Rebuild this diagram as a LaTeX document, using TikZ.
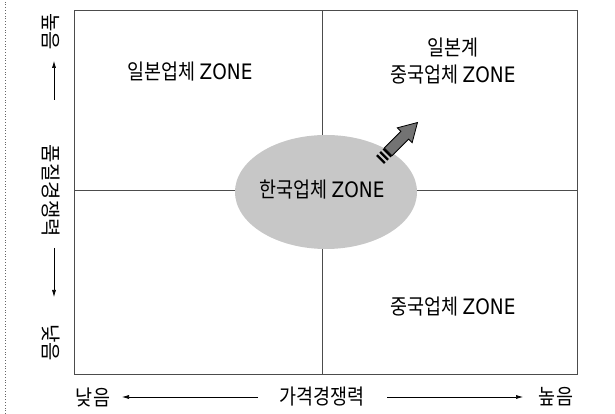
\documentclass[tikz,border=0pt]{standalone}
\usepackage{fontspec}
\setmainfont{Noto Sans CJK KR}
\newfontfamily\latinfont{DejaVu Sans}
\newcommand\zonetxt{{\latinfont ZONE}}
\usetikzlibrary{arrows.meta,shapes.geometric}
\begin{document}
\begin{tikzpicture}[x=1pt,y=1pt,
  lbl/.style={inner sep=0pt,font=\fontsize{18.5}{24}\selectfont,align=center,yscale=1.15},
  vlbl/.style={inner sep=0pt,font=\fontsize{20}{24}\selectfont,rotate=-90},
  frame/.style={draw=black!70,line width=0.9pt},
  axisarrow/.style={draw=black,line width=0.6pt,-{Latex[length=7pt,width=4pt]}}]
\useasboundingbox (0,0) rectangle (615,414);
\draw[black!60,dotted,line width=0.8pt] (5,0) -- (5,414);
% frame and quadrant lines
\draw[frame] (74,40) rectangle (577,404);
\draw[black!70,line width=0.7pt] (322,40) -- (322,404);
\draw[black!70,line width=0.7pt] (74,224) -- (577,224);
% ellipse
\node[ellipse, fill=black!22, minimum width=182pt, minimum height=114pt, inner sep=0pt] (kor) at (326,222) {};
\node[lbl] (kortxt) at (322,224) {한국업체 \zonetxt};
% quadrant labels
\node[lbl] (jp) at (190,342) {일본업체 \zonetxt};
\node[lbl] (jpcn) at (453,353) {일본계\\중국업체 \zonetxt};
\node[lbl] (cn) at (453,107) {중국업체 \zonetxt};
% thick arrow
\begin{scope}[shift={(380,254)},rotate=45]
  \fill[black] (0,-5.5) rectangle (2.4,5.5);
  \fill[black] (4.6,-5.5) rectangle (7,5.5);
  \fill[black] (9.2,-5.5) rectangle (11.6,5.5);
  \draw[black,line width=0.8pt,fill=black!55] (11.6,-5.5) -- (35,-5.5) -- (35,-10.5) -- (53,0) -- (35,10.5) -- (35,5.5) -- (11.6,5.5) -- cycle;
\end{scope}
% left axis
\node[vlbl] (hiq) at (51,382) {높음};
\node[vlbl] (qual) at (51,223) {품질경쟁력};
\node[vlbl] (loq) at (51,71) {낮음};
\coordinate (ua0) at (54,314);
\coordinate (ua1) at (54,353);
\coordinate (da0) at (54,166);
\coordinate (da1) at (54,117);
\draw[axisarrow] (ua0) -- (ua1);
\draw[axisarrow] (da0) -- (da1);
% bottom axis
\node[lbl] (lop) at (93,17) {낮음};
\node[lbl] (price) at (322,17) {가격경쟁력};
\node[lbl] (hip) at (556,17) {높음};
\coordinate (la0) at (258,17);
\coordinate (la1) at (122,17);
\coordinate (ra0) at (387,17);
\coordinate (ra1) at (523,17);
\draw[axisarrow] (la0) -- (la1);
\draw[axisarrow] (ra0) -- (ra1);
\end{tikzpicture}
\end{document}
